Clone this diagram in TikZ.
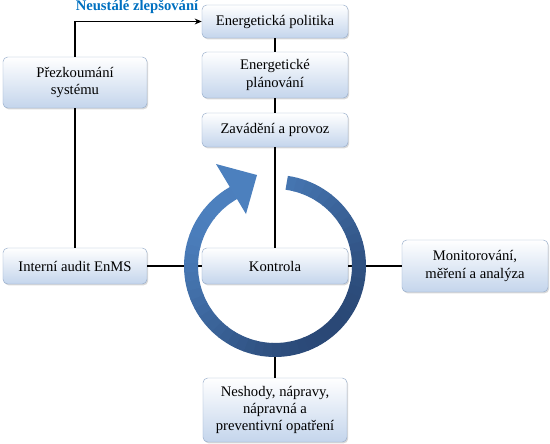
\documentclass[tikz,border=0pt]{standalone}
\usepackage{fontspec}
\setmainfont{Liberation Serif}
\usepackage{xcolor}
\definecolor{enblue}{RGB}{0,112,192}
\definecolor{enbox}{RGB}{196,213,236}
\definecolor{enedge}{RGB}{150,172,202}
\definecolor{enringlight}{RGB}{76,128,190}
\definecolor{enringdark}{RGB}{42,72,118}
\usetikzlibrary{arrows.meta, calc, shadows}

\begin{document}
\begin{tikzpicture}[
  x=0.03cm, y=0.03cm,
  procbox/.style={draw=enedge, top color=white, bottom color=enbox,
    rounded corners=4pt, font=\fontsize{12.5}{14.8}\selectfont,
    align=center, inner sep=2pt, minimum width=4.38cm,
    drop shadow={shadow xshift=1pt, shadow yshift=-1.2pt, opacity=0.3}},
  link/.style={black, line width=1.1pt},
  >=Stealth
]
\useasboundingbox (0,0) rectangle (550,-444);

% --- Main column ---
\node[procbox, minimum height=0.99cm] (polit) at (275,-21.5) {Energetická politika};
\node[procbox, minimum height=1.38cm] (plan) at (275,-75) {Energetické\\plánování};
\node[procbox, minimum height=1.02cm] (zav) at (275,-130) {Zavádění a provoz};
\node[procbox, minimum height=1.08cm] (kontr) at (275,-266) {Kontrola};

% --- Left column ---
\node[procbox, minimum width=4.32cm, minimum height=1.53cm]
      (prez) at (75,-82.5) {Přezkoumání\\systému};
\node[procbox, minimum width=4.32cm, minimum height=1.08cm]
      (audit) at (75,-266) {Interní audit EnMS};

% --- Right and bottom ---
\node[procbox, minimum height=1.56cm] (monit) at (475,-266) {Monitorování,\\měření a analýza};
\node[procbox, minimum width=4.32cm, minimum height=1.92cm]
      (nesh) at (275,-410) {Neshody, nápravy,\\nápravná a\\preventivní opatření};

% Label of the loop
\node[font=\fontsize{12.5}{14}\selectfont\bfseries, text=enblue]
      (zlep) at (137,-7) {Neustálé zlepšování};

% Connectors
\draw[link, -{Stealth[length=6pt, width=5pt]}] (prez.north) |- (polit.west);
\draw[link] (polit.south) -- (plan.north);
\draw[link] (plan.south) -- (zav.north);
\draw[link] (zav.south) -- (kontr.north);
\draw[link] (prez.south) -- (audit.north);
\draw[link] (audit.east) -- (kontr.west);
\draw[link] (kontr.east) -- (monit.west);
\coordinate (ringbot) at (275,-352);
\draw[link] (ringbot) -- (nesh.north);

% --- Circular arrow ---
\coordinate (ringc) at (275,-266);
\foreach \a in {82,76,...,-236} {
  \pgfmathsetmacro{\mixp}{50+50*cos(\a-135)}
  \draw[line width=0.42cm, color=enringlight!\mixp!enringdark]
    ($(ringc)+(\a:84)$) arc[start angle=\a, end angle=\a-6.5, radius=84];
}
\fill[enringlight] (216,-164) -- (257,-175) -- (246,-214) -- cycle;

\end{tikzpicture}
\end{document}
